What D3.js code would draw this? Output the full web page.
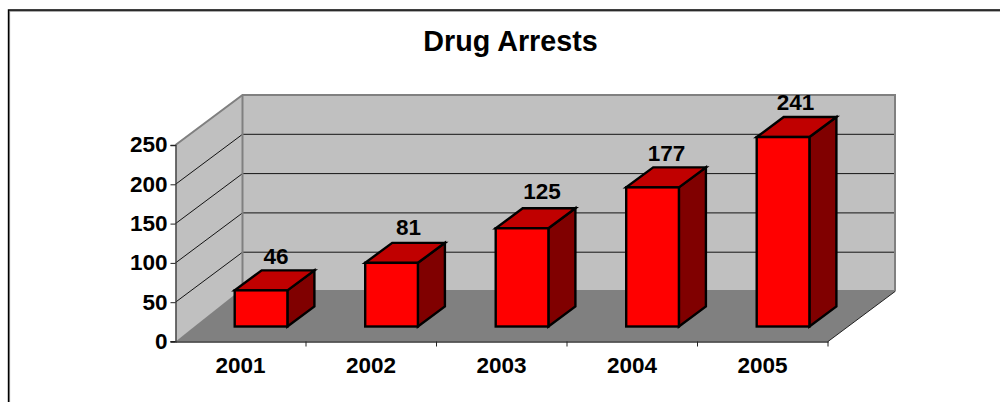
<!DOCTYPE html>
<html><head><meta charset="utf-8">
<style>html,body{margin:0;padding:0;background:#fff}svg{display:block}text{font-family:"Liberation Sans",Arial,sans-serif;font-weight:bold;fill:#000}</style>
<script src="https://cdn.jsdelivr.net/npm/d3@7"></script></head><body>
<svg id="c" width="1000" height="402"></svg>
<script>
const years = ["2001","2002","2003","2004","2005"];
const arrests = [46,81,125,177,241];
const yTicks = [0,50,100,150,200,250];
const chartTitle = "Drug Arrests";

const svg = d3.select("#c");
const x = d3.scaleBand().domain(years).range([175.5,828]).paddingInner(0).paddingOuter(0);
const y = d3.scaleLinear().domain([0,250]).range([341.5,145]);
const wallDx = 67, wallDy = -50;
const barDx = 27, barDy = -20, barInDx = 20, barInDy = -15, barW = 52.7;
const floorLift = 1.5;
const labelShiftX = [1.5,3.5,6.5,0.5,-1];
const labelShiftY = [6.3,7.8,9,6.7,7];
const poly = pts => pts.map(p=>p.join(",")).join(" ");

// frame
svg.append("path").attr("d","M9.3,402V11H1000").attr("fill","none").attr("stroke","#909090").attr("stroke-width",1.6);
svg.append("path").attr("d","M8.5,402V10H1000").attr("fill","none").attr("stroke","#000").attr("stroke-width",1.4);

svg.append("text").attr("x",510.5).attr("y",51).attr("text-anchor","middle").attr("font-size",28.7).text(chartTitle);

const x0=x.range()[0], x1=x.range()[1], yb=y(0), yt=y(250);
// side wall, back wall, floor
svg.append("polygon").attr("points",poly([[x0,yb],[x0+wallDx,yb+wallDy],[x0+wallDx,yt+wallDy],[x0,yt]])).attr("fill","#c0c0c0");
svg.append("polygon").attr("points",poly([[x0+wallDx,yb+wallDy],[x1+wallDx,yb+wallDy],[x1+wallDx,yt+wallDy],[x0+wallDx,yt+wallDy]])).attr("fill","#c0c0c0");

// gridlines
yTicks.filter(t=>t>0&&t<250).forEach(t=>{
  svg.append("path").attr("d",`M${x0},${y(t)}L${x0+wallDx},${y(t)+wallDy}H${x1+wallDx}`).attr("fill","none").attr("stroke","#000").attr("stroke-width",1).attr("stroke-opacity",.9);
});
// wall edges
svg.append("path").attr("d",`M${x0},${yt}L${x0+wallDx},${yt+wallDy}H${x1+wallDx}V${yb+wallDy}`).attr("fill","none").attr("stroke","#808080").attr("stroke-width",2);
svg.append("path").attr("d",`M${x0+wallDx},${yt+wallDy}V${yb+wallDy}`).attr("fill","none").attr("stroke","#808080").attr("stroke-width",2);
svg.append("polygon").attr("points",poly([[x0,yb],[x1,yb],[x1+wallDx,yb+wallDy],[x1+wallDx,yb+wallDy-floorLift],[x0+wallDx-2,yb+wallDy-floorLift]])).attr("fill","#808080");
svg.append("path").attr("d",`M${x1},${yb}L${x1+wallDx},${yb+wallDy}`).attr("fill","none").attr("stroke","#222").attr("stroke-width",1);

// axes
const gy = svg.append("g").attr("transform",`translate(${x0},0)`).call(d3.axisLeft(y).tickValues(yTicks).tickSize(5).tickPadding(3));
const gx = svg.append("g").attr("transform",`translate(0,${yb})`).call(d3.axisBottom(x).tickValues([]).tickSize(0));
[gy,gx].forEach(g=>{g.selectAll("path.domain").attr("stroke","#333").attr("stroke-width",1.3);g.selectAll("line").attr("stroke","#222");});
gy.selectAll("text").attr("font-size",22.5).attr("dy","0.31em");
x.domain().forEach((d,i)=>{
  const tx=x0+x.step()*(i+1);
  svg.append("line").attr("x1",tx).attr("x2",tx).attr("y1",yb).attr("y2",yb+5).attr("stroke","#222");
  svg.append("text").attr("x",x(d)+x.bandwidth()/2-0.2).attr("y",yb+31).attr("text-anchor","middle").attr("font-size",22.5).text(d);
});
svg.append("line").attr("x1",x0-5).attr("x2",x0).attr("y1",yb).attr("y2",yb).attr("stroke","#222");

// bars
const bars = svg.selectAll("g.bar").data(arrests).join("g").attr("class","bar").attr("stroke","#000").attr("stroke-width",2.4).attr("stroke-linejoin","miter");
bars.each(function(v,i){
  const g=d3.select(this);
  const l=x(years[i])+x.bandwidth()/2-barW/2+barInDx+0.3, r=l+barW;
  const b=y(0)+barInDy, t=b-(y(0)-y(v));
  g.append("polygon").attr("points",poly([[r,b],[r+barDx,b+barDy],[r+barDx,t+barDy],[r,t]])).attr("fill","#800000");
  g.append("polygon").attr("points",poly([[l,t],[r,t],[r+barDx,t+barDy],[l+barDx,t+barDy]])).attr("fill","#c00000");
  g.append("rect").attr("x",l).attr("y",t).attr("width",barW).attr("height",b-t).attr("fill","#ff0000");
  svg.append("text").attr("x",(l+r)/2+barDx/2+labelShiftX[i]).attr("y",t+barDy-labelShiftY[i]).attr("text-anchor","middle").attr("font-size",22.5).text(v);
});
</script></body></html>
